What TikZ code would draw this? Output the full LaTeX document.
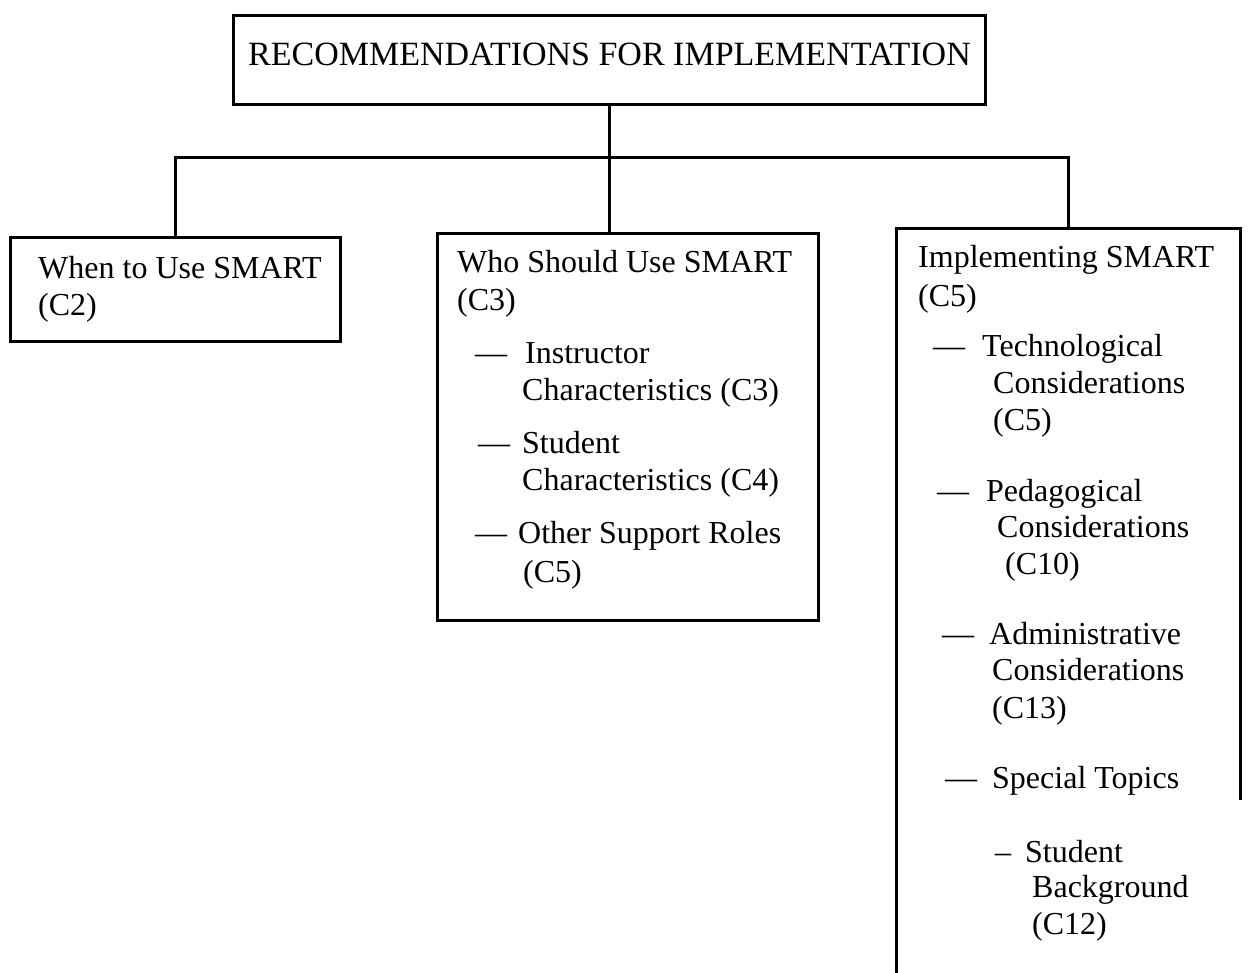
\documentclass[tikz,border=0pt]{standalone}
\usepackage{fontspec}
\setmainfont{Liberation Serif}
\begin{document}
\begin{tikzpicture}[x=1pt,y=-1pt,
  boxline/.style={draw=black,line width=3pt},
  conn/.style={draw=black,line width=3pt,line join=miter},
  lbl/.style={anchor=base west,inner sep=0pt,font=\fontsize{32}{38}\selectfont},
  ttl/.style={anchor=base west,inner sep=0pt,font=\fontsize{34}{40}\selectfont},
  frame/.style={rectangle,inner sep=0pt}]
\useasboundingbox (0,0) rectangle (1250,973);
\fill[white] (0,0) rectangle (1250,973);

% boxes
\node[frame,boxline,minimum width=752pt,minimum height=89pt] (topbox) at (609,60.5) {};
\node[frame,boxline,minimum width=330pt,minimum height=104pt] (b1) at (175,290) {};
\node[frame,boxline,minimum width=381pt,minimum height=386pt] (b2) at (627.5,427) {};
\node[frame,minimum width=343pt,minimum height=744pt] (b3) at (1068.5,601) {};
\coordinate (rend) at (0,800);
\draw[boxline] (b3.south west) -- (b3.north west) -- (b3.north east) -- (b3.north east |- rend);

% connectors
\coordinate (j) at (609,158);
\draw[conn] (topbox.south) -- (j);
\draw[conn] (b1.north) -- (b1.north |- j) -- (b3.north |- j) -- (b3.north);
\draw[conn] (j) -- (j |- b2.north);

% title
\node[ttl] (t0) at (248,66) {RECOMMENDATIONS FOR IMPLEMENTATION};

% box 1
\node[lbl] (a1) at (38,279) {When to Use SMART};
\node[lbl] (a2) at (38,316) {(C2)};

% box 2
\node[lbl] (w1) at (457,273) {Who Should Use SMART};
\node[lbl] (w2) at (457,311) {(C3)};
\node[lbl] (w3) at (475,363) {—\hspace{18pt}Instructor};
\node[lbl] (w4) at (522,400) {Characteristics (C3)};
\node[lbl] (w5) at (478,453) {—\hspace{12pt}Student};
\node[lbl] (w6) at (522,490) {Characteristics (C4)};
\node[lbl] (w7) at (475,543) {—\hspace{11pt}Other Support Roles};
\node[lbl] (w8) at (523,582) {(C5)};

% box 3
\node[lbl] (i1) at (918,268) {Implementing SMART};
\node[lbl] (i2) at (918,307) {(C5)};
\node[lbl] (i3) at (933,357) {—\hspace{17pt}Technological};
\node[lbl] (i4) at (993,393) {Considerations};
\node[lbl] (i5) at (993,430) {(C5)};
\node[lbl] (i6) at (937,501) {—\hspace{17pt}Pedagogical};
\node[lbl] (i7) at (997,537) {Considerations};
\node[lbl] (i8) at (1005,574) {(C10)};
\node[lbl] (i9) at (942,644) {—\hspace{15pt}Administrative};
\node[lbl] (i10) at (992,680) {Considerations};
\node[lbl] (i11) at (992,718) {(C13)};
\node[lbl] (i12) at (945,788) {—\hspace{15pt}Special Topics};
\node[lbl] (i13) at (995,862) {–\hspace{14pt}Student};
\node[lbl] (i14) at (1032,897) {Background};
\node[lbl] (i15) at (1032,934) {(C12)};
\end{tikzpicture}
\end{document}
